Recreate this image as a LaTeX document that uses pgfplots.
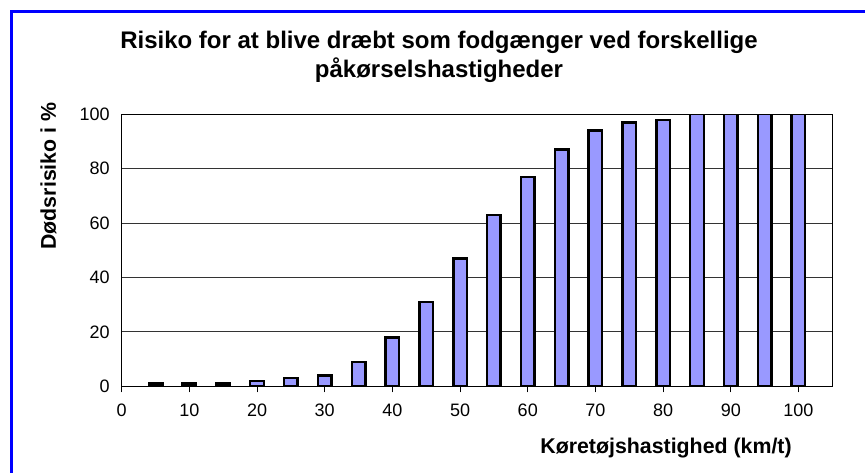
\documentclass[border=0pt]{standalone}
\usepackage{fontspec}
\setmainfont{Liberation Sans}
\usepackage{pgfplots}
\pgfplotsset{compat=1.18}
\definecolor{barblue}{HTML}{9999FF}
\begin{document}
\begin{tikzpicture}
\useasboundingbox (0pt,0pt) rectangle (648.75pt,354.75pt);
\draw[color=blue, line width=2.25pt] (8.25pt,-5pt) -- (8.25pt,346.125pt) -- (655pt,346.125pt);
\node[anchor=base, font=\fontsize{18}{22.5}\selectfont\bfseries, inner sep=0pt] at (329.25pt,318.525pt) {Risiko for at blive dræbt som fodgænger ved forskellige};
\node[anchor=base, font=\fontsize{18}{22.5}\selectfont\bfseries, inner sep=0pt] at (329.25pt,296.25pt) {påkørselshastigheder};
\begin{axis}[
  at={(91.275pt,65.025pt)}, anchor=south west,
  scale only axis, width=532.95pt, height=204pt,
  xmin=0, xmax=105, ymin=0, ymax=100,
  xtick={0,10,...,100}, ytick={0,20,...,100},
  ymajorgrids, grid style={black!80, line width=0.6pt},
  axis line style={black, line width=0.75pt},
  tick align=outside, xtick pos=lower, ytick pos=left,
  ytick style={draw=none}, xtick style={black, line width=0.75pt},
  major tick length=4.5pt,
  ticklabel style={font=\fontsize{13.5}{16}\selectfont},
  xticklabel style={yshift=-5pt},
  yticklabel style={xshift=-1pt},
  /pgf/number format/assume math mode=true,
  xlabel={Køretøjshastighed (km/t)},
  ylabel={Dødsrisiko i \%},
  label style={font=\fontsize{16}{19}\selectfont\bfseries},
  xlabel style={at={(rel axis cs:0.766,-0.228)}, anchor=center},
  ylabel style={at={(rel axis cs:-0.103,0.773)}, anchor=center},
]
\addplot[ybar, bar width=2, fill=barblue, draw=black, line width=1.8pt] coordinates {
(5,1) (10,1) (15,1) (20,2) (25,3) (30,4) (35,9) (40,18) (45,31) (50,47)
(55,63) (60,77) (65,87) (70,94) (75,97) (80,98) (85,100) (90,100) (95,100) (100,100)
};
\end{axis}
\end{tikzpicture}
\end{document}
